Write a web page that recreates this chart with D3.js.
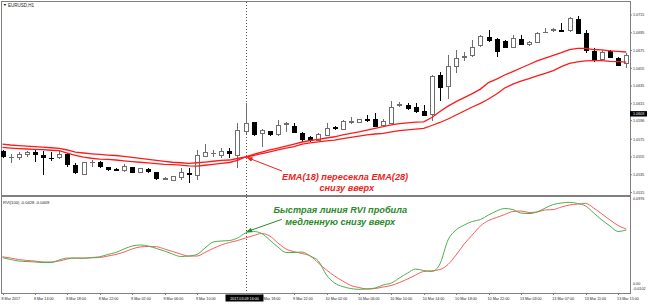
<!DOCTYPE html>
<html lang="ru">
<head>
<meta charset="UTF-8">
<title>EURUSD H1 - EMA / RVI</title>
<script src="https://d3js.org/d3.v7.min.js"></script>
<style>
  body { margin: 0; background: #fff; }
  svg { display: block; }
</style>
</head>
<body>
<script>
// ---- data (hourly bars, 8 Mar 10:00 .. 13 Mar 16:00) ----
const timeLabels = ["8 Mar 2017", "8 Mar 14:00", "8 Mar 18:00", "8 Mar 22:00", "9 Mar 02:00", "9 Mar 06:00",
  "9 Mar 10:00", "9 Mar 14:00", "9 Mar 18:00", "9 Mar 22:00", "10 Mar 02:00", "10 Mar 06:00", "10 Mar 10:00",
  "10 Mar 14:00", "10 Mar 18:00", "10 Mar 22:00", "13 Mar 03:00", "13 Mar 07:00", "13 Mar 11:00", "13 Mar 15:00"];
const timeLabelStep = 4;

const open = [1.05609, 1.05544, 1.05542, 1.05580, 1.05598, 1.05572, 1.05538, 1.05546, 1.05580, 1.05459,
  1.05355, 1.05488, 1.05485, 1.05429, 1.05414, 1.05395, 1.05434, 1.05373, 1.05414, 1.05373,
  1.05299, 1.05290, 1.05321, 1.05364, 1.05336, 1.05561, 1.05589, 1.05572, 1.05609, 1.05572,
  1.05835, 1.05936, 1.05817, 1.05835, 1.05798, 1.05915, 1.05899, 1.05817, 1.05767, 1.05741,
  1.05792, 1.05888, 1.05862, 1.05944, 1.05936, 1.05969, 1.05967, 1.05910, 1.05929, 1.06132,
  1.06127, 1.06107, 1.06060, 1.06034, 1.06463, 1.06342, 1.06567, 1.06677, 1.06691, 1.06801,
  1.06899, 1.06876, 1.06849, 1.06781, 1.06876, 1.06812, 1.06842, 1.06953, 1.06970, 1.06975,
  1.06973, 1.07102, 1.06944, 1.06736, 1.06651, 1.06736, 1.06662, 1.06606];
const high = [1.05629, 1.05580, 1.05609, 1.05621, 1.05629, 1.05621, 1.05609, 1.05617, 1.05598, 1.05479,
  1.05497, 1.05516, 1.05505, 1.05440, 1.05429, 1.05467, 1.05440, 1.05429, 1.05422, 1.05384,
  1.05321, 1.05336, 1.05422, 1.05422, 1.05629, 1.05693, 1.05629, 1.05648, 1.05648, 1.05929,
  1.06155, 1.05944, 1.05862, 1.05846, 1.05967, 1.05947, 1.05929, 1.05835, 1.05786, 1.05817,
  1.05929, 1.05899, 1.05967, 1.06004, 1.05975, 1.06023, 1.06042, 1.05975, 1.06181, 1.06173,
  1.06155, 1.06155, 1.06136, 1.06474, 1.06511, 1.06699, 1.06756, 1.06736, 1.06868, 1.06925,
  1.06981, 1.06887, 1.06868, 1.06925, 1.06925, 1.06857, 1.06955, 1.07000, 1.07000, 1.07056,
  1.07124, 1.07139, 1.06981, 1.06775, 1.06756, 1.06756, 1.06673, 1.06718];
const low = [1.05538, 1.05479, 1.05516, 1.05553, 1.05490, 1.05347, 1.05508, 1.05524, 1.05440, 1.05358,
  1.05347, 1.05440, 1.05422, 1.05392, 1.05392, 1.05384, 1.05366, 1.05366, 1.05373, 1.05290,
  1.05290, 1.05279, 1.05290, 1.05253, 1.05290, 1.05553, 1.05553, 1.05535, 1.05535, 1.05422,
  1.05809, 1.05786, 1.05666, 1.05786, 1.05786, 1.05835, 1.05817, 1.05722, 1.05722, 1.05733,
  1.05786, 1.05854, 1.05854, 1.05922, 1.05929, 1.05947, 1.05891, 1.05891, 1.05922, 1.06110,
  1.06079, 1.06049, 1.06012, 1.05959, 1.06181, 1.06200, 1.06493, 1.06635, 1.06680, 1.06793,
  1.06849, 1.06680, 1.06775, 1.06775, 1.06812, 1.06804, 1.06838, 1.06944, 1.06962, 1.06962,
  1.06962, 1.06936, 1.06718, 1.06624, 1.06643, 1.06662, 1.06579, 1.06549];
const close = [1.05553, 1.05550, 1.05580, 1.05603, 1.05583, 1.05546, 1.05533, 1.05580, 1.05467, 1.05373,
  1.05490, 1.05493, 1.05440, 1.05411, 1.05403, 1.05448, 1.05373, 1.05422, 1.05384, 1.05310,
  1.05304, 1.05328, 1.05373, 1.05352, 1.05572, 1.05598, 1.05595, 1.05617, 1.05591, 1.05846,
  1.05933, 1.05805, 1.05846, 1.05798, 1.05910, 1.05922, 1.05824, 1.05749, 1.05741, 1.05798,
  1.05873, 1.05873, 1.05947, 1.05950, 1.05967, 1.05963, 1.05899, 1.05947, 1.06105, 1.06138,
  1.06096, 1.06060, 1.06023, 1.06455, 1.06335, 1.06567, 1.06662, 1.06682, 1.06786, 1.06913,
  1.06860, 1.06736, 1.06781, 1.06887, 1.06820, 1.06842, 1.06944, 1.06958, 1.06992, 1.06970,
  1.07113, 1.06944, 1.06748, 1.06635, 1.06730, 1.06673, 1.06586, 1.06699];

const ema18 = [1.05659, 1.05651, 1.05645, 1.05640, 1.05636, 1.05632, 1.05626, 1.05621, 1.05595, 1.05567,
  1.05548, 1.05536, 1.05527, 1.05524, 1.05516, 1.05507, 1.05499, 1.05491, 1.05484, 1.05476,
  1.05468, 1.05463, 1.05459, 1.05450, 1.05448, 1.05457, 1.05467, 1.05479, 1.05488, 1.05511,
  1.05550, 1.05580, 1.05606, 1.05629, 1.05651, 1.05673, 1.05696, 1.05719, 1.05736, 1.05749,
  1.05764, 1.05778, 1.05798, 1.05817, 1.05834, 1.05854, 1.05873, 1.05891, 1.05912, 1.05927,
  1.05935, 1.05942, 1.05946, 1.05995, 1.06062, 1.06123, 1.06174, 1.06219, 1.06264, 1.06315,
  1.06389, 1.06428, 1.06474, 1.06513, 1.06553, 1.06592, 1.06632, 1.06665, 1.06694, 1.06727,
  1.06761, 1.06775, 1.06773, 1.06761, 1.06756, 1.06746, 1.06739, 1.06733];
const ema28 = [1.05696, 1.05685, 1.05679, 1.05673, 1.05668, 1.05662, 1.05654, 1.05648, 1.05629, 1.05606,
  1.05595, 1.05586, 1.05579, 1.05572, 1.05567, 1.05558, 1.05546, 1.05535, 1.05524, 1.05513,
  1.05501, 1.05491, 1.05485, 1.05479, 1.05485, 1.05493, 1.05502, 1.05513, 1.05516, 1.05533,
  1.05550, 1.05567, 1.05589, 1.05608, 1.05629, 1.05649, 1.05668, 1.05696, 1.05710, 1.05721,
  1.05732, 1.05741, 1.05756, 1.05772, 1.05786, 1.05800, 1.05809, 1.05817, 1.05834, 1.05848,
  1.05856, 1.05865, 1.05873, 1.05905, 1.05939, 1.05978, 1.06023, 1.06068, 1.06113, 1.06155,
  1.06203, 1.06260, 1.06327, 1.06372, 1.06404, 1.06434, 1.06463, 1.06491, 1.06524, 1.06568,
  1.06606, 1.06621, 1.06634, 1.06636, 1.06636, 1.06628, 1.06624, 1.06620];

// RVI(100): main (green) and signal (red)
const rviMain = [0.0302, 0.0281, 0.0264, 0.0258, 0.0253, 0.0247, 0.0247, 0.0276, 0.0298, 0.0298,
  0.0295, 0.0304, 0.0313, 0.0339, 0.0362, 0.0402, 0.0436, 0.0448, 0.0436, 0.0408,
  0.0379, 0.0344, 0.0316, 0.0321, 0.0339, 0.0413, 0.0482, 0.0494, 0.0499, 0.0528,
  0.0585, 0.0603, 0.0580, 0.0505, 0.0425, 0.0362, 0.0362, 0.0367, 0.0321, 0.0264,
  0.0103, 0.0011, -0.0029, -0.0052, -0.0061, -0.0057, -0.0046, -0.0011, 0.0011, 0.0069,
  0.0126, 0.0172, 0.0155, 0.0144, 0.0230, 0.0505, 0.0620, 0.0677, 0.0718, 0.0740,
  0.0792, 0.0838, 0.0867, 0.0855, 0.0815, 0.0809, 0.0827, 0.0872, 0.0913, 0.0930,
  0.0938, 0.0924, 0.0895, 0.0815, 0.0735, 0.0666, 0.0603, 0.0620];
const rviSignal = [0.0313, 0.0298, 0.0281, 0.0270, 0.0264, 0.0253, 0.0253, 0.0264, 0.0287, 0.0298,
  0.0298, 0.0301, 0.0304, 0.0321, 0.0339, 0.0367, 0.0402, 0.0425, 0.0431, 0.0428,
  0.0402, 0.0373, 0.0344, 0.0321, 0.0321, 0.0362, 0.0408, 0.0448, 0.0476, 0.0499,
  0.0528, 0.0557, 0.0580, 0.0551, 0.0471, 0.0402, 0.0371, 0.0350, 0.0321, 0.0241,
  0.0161, 0.0092, 0.0034, -0.0017, -0.0040, -0.0057, -0.0052, -0.0034, -0.0017, 0.0017,
  0.0057, 0.0103, 0.0144, 0.0152, 0.0166, 0.0224, 0.0333, 0.0459, 0.0563, 0.0666,
  0.0729, 0.0763, 0.0798, 0.0832, 0.0838, 0.0821, 0.0827, 0.0850, 0.0855, 0.0884,
  0.0907, 0.0918, 0.0924, 0.0872, 0.0804, 0.0735, 0.0672, 0.0631];

const priceTicks = [1.0715, 1.0695, 1.0675, 1.0655, 1.0635, 1.0615, 1.0596, 1.0575, 1.0555, 1.0535, 1.0515];
const rviTicks = [0.0976, 0.0, -0.0102];
const rviTickLabels = ["0.0976", "0.00", "-0.0102"];

const crossBar = 30;
const crossLabel = "2017.03.09 16:00";
const markerPrice = 1.0603;

// ---- layout ----
const width = 650, height = 305;
const left = 2, right = 630;
const mainTop = 2, mainBottom = 195;
const subTop = 197, subBottom = 293;
const smallFont = "'Liberation Sans', Arial, sans-serif";

const svg = d3.select("body").append("svg")
  .attr("width", width)
  .attr("height", height)
  .style("background", "#fff");

const x = d3.scaleLinear().domain([0, open.length - 1]).range([2.5, 626.2]);
const y = d3.scaleLinear().domain([1.0515, 1.0715]).range([192.5, 15]);
const yr = d3.scaleLinear().domain([-0.0102, 0.0976]).range([292.9, 199]);

// ---- frame ----
svg.append("rect")
  .attr("x", left - 0.5).attr("y", mainTop - 0.5)
  .attr("width", right - left + 1).attr("height", subBottom - mainTop + 1)
  .attr("fill", "none").attr("stroke", "#7f7f7f").attr("stroke-width", 1);
svg.append("rect")
  .attr("x", left).attr("y", mainBottom)
  .attr("width", right - left).attr("height", 2)
  .attr("fill", "#7f7f7f");

// ---- crosshair (vertical dotted line) ----
svg.append("line")
  .attr("x1", Math.round(x(crossBar)) + 0.5).attr("x2", Math.round(x(crossBar)) + 0.5)
  .attr("y1", mainTop).attr("y2", subBottom)
  .attr("stroke", "#555").attr("stroke-width", 1)
  .attr("stroke-dasharray", "1,2");

// ---- candles ----
const bars = d3.range(open.length).map(i => ({ i, o: open[i], h: high[i], l: low[i], c: close[i] }));
const candle = svg.append("g").attr("class", "candles").attr("shape-rendering", "crispEdges");

candle.selectAll("line.wick")
  .data(bars)
  .enter()
  .append("line")
  .attr("class", "wick")
  .attr("x1", d => Math.round(x(d.i)) + 0.5)
  .attr("x2", d => Math.round(x(d.i)) + 0.5)
  .attr("y1", d => y(d.h))
  .attr("y2", d => y(d.l))
  .attr("stroke", d => d.c >= d.o ? "#6e6e6e" : "#000");

candle.selectAll("rect.body")
  .data(bars)
  .enter()
  .append("rect")
  .attr("class", "body")
  .attr("x", d => Math.round(x(d.i)) - 2 + 0.5)
  .attr("y", d => y(Math.max(d.o, d.c)))
  .attr("width", 4)
  .attr("height", d => Math.max(0.5, Math.abs(y(d.o) - y(d.c))))
  .attr("fill", d => d.c >= d.o ? "#fff" : "#000")
  .attr("stroke", d => d.c >= d.o ? "#6e6e6e" : "#000");

// ---- EMA lines ----
const emaLine = d3.line().x((d, i) => x(i)).y(d => y(d));
[ema28, ema18].forEach(series => {
  svg.append("path")
    .datum(series)
    .attr("d", emaLine)
    .attr("fill", "none")
    .attr("stroke", "#ff1a1a")
    .attr("stroke-width", 1.3);
});

// ---- RVI lines ----
const rviLine = d3.line().x((d, i) => x(i)).y(d => yr(d)).curve(d3.curveMonotoneX);
svg.append("path")
  .datum(rviSignal)
  .attr("d", rviLine)
  .attr("fill", "none")
  .attr("stroke", "#ff5a5a")
  .attr("stroke-width", 1);
svg.append("path")
  .datum(rviMain)
  .attr("d", rviLine)
  .attr("fill", "none")
  .attr("stroke", "#4caf50")
  .attr("stroke-width", 1);

// ---- price axis (right) ----
const priceAxis = svg.append("g").attr("font-family", smallFont).attr("font-size", "3.7px");
priceAxis.selectAll("line")
  .data(priceTicks)
  .enter()
  .append("line")
  .attr("x1", right).attr("x2", right + 2)
  .attr("y1", d => y(d)).attr("y2", d => y(d))
  .attr("stroke", "#7f7f7f");
priceAxis.selectAll("text")
  .data(priceTicks)
  .enter()
  .append("text")
  .attr("x", right + 3)
  .attr("y", d => y(d) + 1.3)
  .attr("fill", "#222")
  .text(d => d.toFixed(4));

// current price marker box
svg.append("rect")
  .attr("x", right).attr("y", y(markerPrice) - 3.3)
  .attr("width", 17).attr("height", 5.4)
  .attr("fill", "#000");
svg.append("text")
  .attr("x", right + 3).attr("y", y(markerPrice) + 1)
  .attr("font-family", smallFont).attr("font-size", "3.7px")
  .attr("fill", "#fff")
  .text(markerPrice.toFixed(4));

// ---- RVI axis (right) ----
const rviAxis = svg.append("g").attr("font-family", smallFont).attr("font-size", "3.7px");
rviAxis.selectAll("text")
  .data(rviTicks)
  .enter()
  .append("text")
  .attr("x", right + 3)
  .attr("y", d => Math.min(yr(d), subBottom - 4.5) + 1.3)
  .attr("fill", "#222")
  .text((d, i) => rviTickLabels[i]);

// ---- time axis ----
// the crosshair label box hides whatever time label sits under it
const boxLeft = x(crossBar) - 20, boxRight = boxLeft + 38;
const timeTicks = timeLabels.map((t, i) => ({ t, bar: i * timeLabelStep }))
  .filter(d => !(x(d.bar) - 1 >= boxLeft && x(d.bar) - 1 <= boxRight - 10));

const timeAxis = svg.append("g").attr("font-family", smallFont).attr("font-size", "3.7px");
timeAxis.selectAll("line")
  .data(timeTicks)
  .enter()
  .append("line")
  .attr("x1", d => Math.round(x(d.bar)) + 0.5)
  .attr("x2", d => Math.round(x(d.bar)) + 0.5)
  .attr("y1", subBottom).attr("y2", subBottom + 2)
  .attr("stroke", "#7f7f7f");
timeAxis.selectAll("text")
  .data(timeTicks)
  .enter()
  .append("text")
  .attr("x", d => x(d.bar) - 1)
  .attr("y", subBottom + 7)
  .attr("fill", "#222")
  .text(d => d.t);

// crosshair time label
svg.append("rect")
  .attr("x", boxLeft).attr("y", subBottom + 1.5)
  .attr("width", boxRight - boxLeft).attr("height", 7)
  .attr("fill", "#000");
svg.append("text")
  .attr("x", x(crossBar) - 1).attr("y", subBottom + 7)
  .attr("text-anchor", "middle")
  .attr("font-family", smallFont).attr("font-size", "3.7px")
  .attr("fill", "#fff")
  .text(crossLabel);

// ---- titles ----
svg.append("path")
  .attr("d", "M3.5,4 L6.5,4 L5,6 Z")
  .attr("fill", "#333");
svg.append("text")
  .attr("x", 8).attr("y", 7)
  .attr("font-family", smallFont).attr("font-size", "4.5px")
  .attr("fill", "#222")
  .text("EURUSD,H1");
svg.append("text")
  .attr("x", 3).attr("y", 203.5)
  .attr("font-family", smallFont).attr("font-size", "4.1px")
  .attr("fill", "#222")
  .text("RVI(100) -0.0428 -0.0409");

// ---- annotations ----
const defs = svg.append("defs");
[["arrowRed", "#f01e1e"], ["arrowGreen", "#2a8a2a"]].forEach(([id, col]) => {
  defs.append("marker")
    .attr("id", id)
    .attr("viewBox", "0 0 10 10")
    .attr("refX", 9).attr("refY", 5)
    .attr("markerWidth", 6).attr("markerHeight", 6)
    .attr("orient", "auto")
    .append("path")
    .attr("d", "M0,1 L10,5 L0,9 Z")
    .attr("fill", col);
});

// EMA crossing note
svg.append("line")
  .attr("x1", x(34.5)).attr("y1", y(1.05392))
  .attr("x2", x(30.2)).attr("y2", y(ema18[crossBar]) + 0.5)
  .attr("stroke", "#f01e1e").attr("stroke-width", 1)
  .attr("marker-end", "url(#arrowRed)");
const emaNote = svg.append("text")
  .attr("text-anchor", "middle")
  .attr("font-family", "'Liberation Sans', Arial, sans-serif")
  .attr("font-size", "9.2px")
  .attr("font-weight", "bold")
  .attr("font-style", "italic")
  .attr("fill", "#f01e1e");
emaNote.append("tspan").attr("x", x(42.3)).attr("y", y(1.0529)).text("EMA(18) пересекла EMA(28)");
emaNote.append("tspan").attr("x", x(42.5)).attr("y", y(1.05166)).text("снизу вверх");

// RVI crossing note
svg.append("line")
  .attr("x1", x(34.5)).attr("y1", yr(0.0743))
  .attr("x2", x(30.15)).attr("y2", yr(0.0600))
  .attr("stroke", "#2a8a2a").attr("stroke-width", 1)
  .attr("marker-end", "url(#arrowGreen)");
const rviNote = svg.append("text")
  .attr("text-anchor", "middle")
  .attr("font-family", "'Liberation Sans', Arial, sans-serif")
  .attr("font-size", "9.2px")
  .attr("font-weight", "bold")
  .attr("font-style", "italic")
  .attr("fill", "#2a8a2a");
rviNote.append("tspan").attr("x", x(41.7)).attr("y", yr(0.0821)).text("Быстрая линия RVI пробила");
rviNote.append("tspan").attr("x", x(41.7)).attr("y", yr(0.0672)).text("медленную снизу вверх");
</script>
</body>
</html>
